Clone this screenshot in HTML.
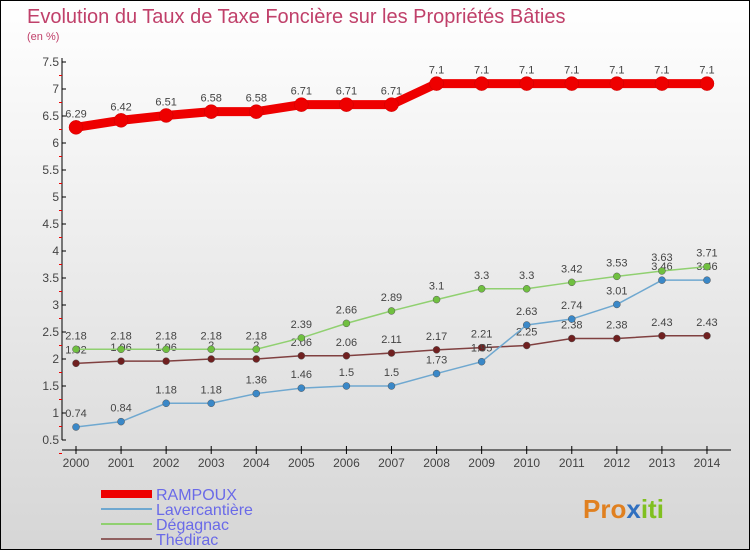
<!DOCTYPE html>
<html><head><meta charset="utf-8"><style>
body{margin:0;width:750px;height:550px;overflow:hidden}
#c{position:absolute;left:0;top:0;width:748px;height:548px;border:1px solid #000;background:linear-gradient(#fff,#d6d6d6)}
text{font-family:"Liberation Sans",sans-serif}
</style></head><body>
<div id="c">
<svg id="s" width="748" height="548" xmlns="http://www.w3.org/2000/svg">
<text x="26" y="22" font-size="20" fill="#c0406a" font-weight="normal">Evolution du Taux de Taxe Foncière sur les Propriétés Bâties</text>
<text x="26" y="39" font-size="11" fill="#c0406a">(en %)</text>
<g id="axes"></g><g id="series"></g>
<g>
<rect x="100" y="489" width="51" height="8" fill="#e00"/>
<text x="155" y="499" font-size="16" fill="#6a6ae8">RAMPOUX</text>
<rect x="100" y="507" width="51" height="2" fill="#6fa8d0"/>
<text x="155" y="514" font-size="16" fill="#6a6ae8">Lavercantière</text>
<rect x="100" y="522" width="51" height="2" fill="#90d070"/>
<text x="155" y="529" font-size="16" fill="#6a6ae8">Dégagnac</text>
<rect x="100" y="537" width="51" height="2" fill="#906060"/>
<text x="155" y="544" font-size="16" fill="#6a6ae8">Thédirac</text>
</g>
<text x="582" y="517" font-size="26" font-weight="bold" fill="#e08020">Pro<tspan fill="#3070c0">x</tspan><tspan fill="#80c020">iti</tspan></text>
</svg></div>
<script>
const years=[2000,2001,2002,2003,2004,2005,2006,2007,2008,2009,2010,2011,2012,2013,2014];
const yTicks=[0.5,1,1.5,2,2.5,3,3.5,4,4.5,5,5.5,6,6.5,7,7.5];
const rampoux=[6.29,6.42,6.51,6.58,6.58,6.71,6.71,6.71,7.1,7.1,7.1,7.1,7.1,7.1,7.1];
const lavercantiere=[0.74,0.84,1.18,1.18,1.36,1.46,1.5,1.5,1.73,1.95,2.63,2.74,3.01,3.46,3.46];
const degagnac=[2.18,2.18,2.18,2.18,2.18,2.39,2.66,2.89,3.1,3.3,3.3,3.42,3.53,3.63,3.71];
const thedirac=[1.92,1.96,1.96,2,2,2.06,2.06,2.11,2.17,2.21,2.25,2.38,2.38,2.43,2.43];
const NS="http://www.w3.org/2000/svg";
const xs=i=>75+i*45.07, ys=v=>439-(v-0.5)*54.0;
function mk(t,a,p){const e=document.createElementNS(NS,t);for(const k in a)e.setAttribute(k,a[k]);p.appendChild(e);return e;}
const ax=document.getElementById('axes'), se=document.getElementById('series');
let l=mk('line',{x1:61,y1:57,x2:61,y2:439,stroke:'#000'},ax);

l=mk('line',{x1:61,y1:449,x2:730,y2:449,stroke:'#000'},ax);

yTicks.forEach(v=>{const y=ys(v);
mk('line',{x1:61,y1:y,x2:65,y2:y,stroke:'#000'},ax);
mk('line',{x1:58,y1:y+13.5,x2:61,y2:y+13.5,stroke:'#e00'},ax);
const t=mk('text',{x:58,y:y+4,'font-size':12,fill:'#444','text-anchor':'end'},ax);t.textContent=v;
});
years.forEach((yr,i)=>{const x=xs(i);
mk('line',{x1:x,y1:445,x2:x,y2:453,stroke:'#000'},ax);
const t=mk('text',{x:x,y:466,'font-size':12,fill:'#444','text-anchor':'middle'},ax);t.textContent=yr;
});
function draw(name,data,col,w,r,dot){
const g=mk('g',{},se);
const p=mk('polyline',{points:data.map((v,i)=>xs(i)+','+ys(v)).join(' '),fill:'none',stroke:col,'stroke-width':w},g);

data.forEach((v,i)=>{const c=mk('circle',{cx:xs(i),cy:ys(v),r:r,fill:dot,stroke:col==='#e00'?'#c00':'#555','stroke-width':0.5},g);

const t=mk('text',{x:xs(i),y:ys(v)-10,'font-size':11,fill:'#444','text-anchor':'middle'},g);t.textContent=v;
});}
draw('thedirac',thedirac,'#804040',1.5,3.5,'#702020');
draw('lavercantiere',lavercantiere,'#6fa8d0',1.5,3.5,'#3a88c8');
draw('degagnac',degagnac,'#90d070',1.5,3.5,'#70c040');
draw('rampoux',rampoux,'#e00',9,7,'#e00');
</script></body></html>
